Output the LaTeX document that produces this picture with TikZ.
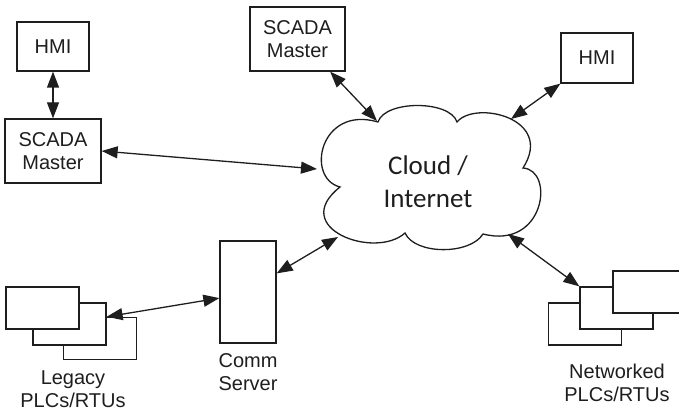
\documentclass[tikz,border=0pt]{standalone}
\usepackage{fontspec}
\setmainfont{Liberation Sans}
\newfontfamily\cloudfont{Carlito}
\usetikzlibrary{arrows.meta}
\definecolor{ink}{HTML}{1E1E1E}
\begin{document}
\begin{tikzpicture}[x=1pt,y=-1pt,
  box/.style={draw=ink, line width=1.3pt, fill=white, inner sep=0pt,
    font=\fontsize{20}{23}\selectfont, align=center, text=ink},
  lbl/.style={inner sep=0pt, font=\fontsize{20}{23}\selectfont, align=center, text=ink},
  plc/.style={draw=ink, line width=1.3pt, fill=white, minimum width=73pt, minimum height=42pt, inner sep=0pt},
  link/.style={draw=ink, line width=1.3pt, {Triangle[length=16pt,width=12pt]}-{Triangle[length=16pt,width=12pt]}}]
\useasboundingbox (0,0) rectangle (679,411);

% boxes
\node[box, minimum width=72pt, minimum height=49pt] (hmiL) at (53,46.5) {HMI};
\node[box, minimum width=96pt, minimum height=64pt] (scadaL) at (53,151) {SCADA\\Master};
\node[box, minimum width=95pt, minimum height=64pt] (scadaT) at (297.5,39) {SCADA\\Master};
\node[box, minimum width=72pt, minimum height=50pt] (hmiR) at (597,58) {HMI};
\node[box, minimum width=56pt, minimum height=102pt] (comm) at (248,292) {};
\node[lbl] (commlbl) at (248,372) {Comm\\Server};

% legacy PLCs
\node[plc] (l3) at (100,338.5) {};
\node[plc] (l2) at (69.5,324) {};
\node[plc] (l1) at (42.5,308) {};
\node[lbl] (leglbl) at (73,389) {Legacy\\PLCs/RTUs};

% networked PLCs
\begin{scope}
\clip (0,0) rectangle (679,411);
\node[plc] (n1) at (585,324) {};
\node[plc] (n2) at (616.5,308) {};
\node[plc] (n3) at (649.5,292) {};
\end{scope}
\node[lbl] (netlbl) at (617,383) {Networked\\PLCs/RTUs};

% cloud
\draw[draw=ink, line width=1.3pt, fill=white]
  (378,122) .. controls (385,100) and (450,100) .. (457,122)
  .. controls (475,100) and (555,118) .. (523,168)
  .. controls (555,170) and (545,250) .. (483,234)
  .. controls (470,255) and (415,255) .. (405,233)
  .. controls (375,260) and (288,228) .. (340,187)
  .. controls (305,178) and (320,105) .. (378,122) -- cycle;
\node[inner sep=0pt, align=center, text=ink, font=\cloudfont\fontsize{27}{33}\selectfont] (cloud) at (428,182) {Cloud /\\Internet};

\coordinate (cW) at (317,169);
\coordinate (cTL) at (377,121);
\coordinate (cTR) at (511,119);
\coordinate (cBL) at (338,237);
\coordinate (cBR) at (508,234);

% connectors
\draw[link] (hmiL.south) -- (scadaL.north);
\draw[link] (scadaL.east) -- (cW);
\draw[link] (scadaT.-45) -- (cTL);
\draw[link] (hmiR.south west) -- (cTR);
\draw[link] (comm.33) -- (cBL);
\draw[link] (l2.11) -- (comm.192);
\draw[link] (cBR) -- (n2.north west);
\end{tikzpicture}
\end{document}
